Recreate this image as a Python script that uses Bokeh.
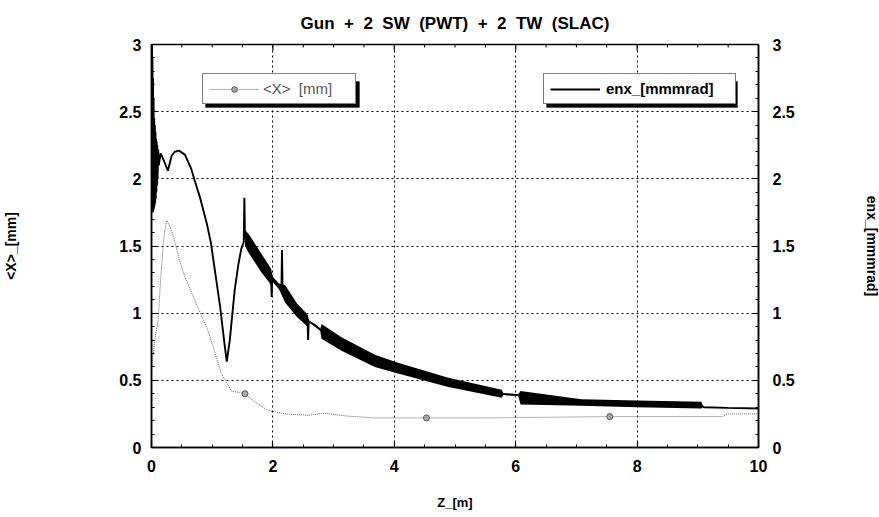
import math
from bokeh.plotting import figure
from bokeh.models import (Range1d, LinearAxis, FixedTicker, NumeralTickFormatter,
                          Legend, LegendItem, BoxAnnotation)
from bokeh.embed import file_html
from bokeh.resources import INLINE

# ---------------- data ----------------
emit_z = [0.000, 0.004, 0.008, 0.012, 0.016, 0.020, 0.025, 0.030, 0.035, 0.040,
          0.045, 0.050, 0.055, 0.060, 0.065, 0.070, 0.075, 0.080, 0.085, 0.090,
          0.095, 0.100, 0.110, 0.120, 0.150, 0.200, 0.270, 0.330, 0.380, 0.450,
          0.550, 0.650, 0.710, 0.800, 0.910, 0.980, 1.050, 1.130, 1.200, 1.240,
          1.290, 1.370, 1.430, 1.480, 1.520, 1.530, 1.540, 1.600, 1.700, 1.800,
          1.900, 1.970, 1.980, 1.990, 2.050, 2.140, 2.150, 2.160, 2.300, 2.450,
          2.570, 2.580, 2.590, 2.700, 2.800, 3.130, 3.400, 3.680, 4.060, 4.500,
          4.890, 5.330, 5.770, 6.040, 6.500, 7.080, 7.600, 8.000, 8.500, 9.060,
          9.100, 9.500, 10.000]
emit_v = [2.95, 1.80, 3.00, 1.78, 2.90, 1.75, 2.75, 1.76, 2.60, 1.78,
          2.45, 1.80, 2.40, 1.82, 2.35, 1.85, 2.30, 1.90, 2.28, 1.95,
          2.25, 2.00, 2.22, 2.10, 2.19, 2.14, 2.06, 2.17, 2.20, 2.21,
          2.18, 2.08, 1.99, 1.86, 1.67, 1.52, 1.30, 1.05, 0.78, 0.64,
          0.80, 1.17, 1.36, 1.48, 1.53, 1.86, 1.56, 1.52, 1.45, 1.38,
          1.31, 1.27, 1.12, 1.26, 1.22, 1.17, 1.47, 1.16, 1.08, 1.00,
          0.95, 0.80, 0.94, 0.91, 0.87, 0.77, 0.71, 0.65, 0.59, 0.535,
          0.49, 0.445, 0.40, 0.39, 0.37, 0.34, 0.33, 0.325, 0.32, 0.315,
          0.30, 0.295, 0.29]

# envelope of the fast oscillations of the emittance
band_z = [1.54, 1.60, 1.80, 1.97, 2.00, 2.10, 2.20, 2.40, 2.57, 2.60, 2.78, 2.80,
          3.13, 3.68, 4.06, 4.89, 5.77, 5.80, 6.04, 6.08, 7.08, 8.00, 9.06, 9.08]
band_lo = [1.50, 1.45, 1.31, 1.21, 1.23, 1.18, 1.08, 0.97, 0.90, 0.93, 0.87, 0.81,
           0.72, 0.60, 0.55, 0.45, 0.37, 0.39, 0.385, 0.32, 0.31, 0.30, 0.29, 0.30]
band_hi = [1.62, 1.59, 1.45, 1.33, 1.27, 1.22, 1.21, 1.07, 0.99, 0.94, 0.88, 0.92,
           0.82, 0.69, 0.63, 0.52, 0.43, 0.40, 0.395, 0.42, 0.36, 0.35, 0.34, 0.31]

xmean_z = [0.00, 0.03, 0.06, 0.09, 0.11, 0.15, 0.20, 0.25, 0.30, 0.36, 0.47, 0.55,
           0.70, 0.93, 1.05, 1.15, 1.32, 1.45, 1.54, 1.70, 1.92, 2.20, 2.58, 2.85,
           3.20, 3.68, 4.53, 5.50, 6.50, 7.55, 8.50, 9.40, 9.50, 10.00]
xmean_v = [0.60, 0.70, 0.82, 0.90, 0.95, 1.25, 1.55, 1.69, 1.65, 1.57, 1.38, 1.27,
           1.11, 0.87, 0.70, 0.55, 0.42, 0.41, 0.40, 0.34, 0.275, 0.25, 0.24, 0.255,
           0.235, 0.22, 0.22, 0.22, 0.225, 0.23, 0.23, 0.23, 0.25, 0.25]
xmark_z = [1.54, 4.53, 7.55]
xmark_v = [0.40, 0.22, 0.23]

x_ticks = [0, 2, 4, 6, 8, 10]
x_minor = [0.5, 1, 1.5, 2.5, 3, 3.5, 4.5, 5, 5.5, 6.5, 7, 7.5, 8.5, 9, 9.5]
y_ticks = [0, 0.5, 1, 1.5, 2, 2.5, 3]
y_minor = [i / 10 for i in range(31)]

SP2 = "\u00a0\u00a0"
title_text = SP2.join(["Gun", "+", "2", "SW", "(PWT)", "+", "2", "TW", "(SLAC)"])
xlabel_text = "Z_[m]"
ylabel_left = "<X>_[mm]"
ylabel_right = "enx_[mmmrad]"
legend_x = "<X>" + SP2 + "[mm]"
legend_e = "enx_[mmmrad]"

FONT = "Liberation Sans"
Y_TOP = 3.0
PX_PER_Y = 403 / 3.0

# ---------------- figure ----------------
p = figure(frame_width=607, frame_height=403, output_backend="svg",
           toolbar_location=None, x_range=Range1d(0, 10), y_range=Range1d(0, Y_TOP),
           min_border_left=150, min_border_right=122, min_border_top=44,
           min_border_bottom=70, background_fill_color="white",
           border_fill_color="white", title=title_text)
p.outline_line_color = "black"
p.outline_line_width = 1.5
p.extra_y_ranges = {"right": Range1d(0, Y_TOP)}

p.title.align = "center"
p.title.text_font = FONT
p.title.text_font_size = "17px"
p.title.text_font_style = "bold"
p.title.text_color = "black"
p.title.standoff = 23

xt = FixedTicker(ticks=x_ticks, minor_ticks=x_minor)
yt = FixedTicker(ticks=y_ticks, minor_ticks=y_minor)

def style_axis(ax, standoff):
    ax.major_tick_in = 6
    ax.major_tick_out = 0
    ax.minor_tick_in = 3
    ax.minor_tick_out = 0
    ax.axis_line_color = "black"
    ax.axis_line_width = 1.5
    ax.major_tick_line_width = 1.2
    ax.minor_tick_line_width = 1
    ax.major_label_text_font = FONT
    ax.major_label_text_font_style = "bold"
    ax.major_label_text_font_size = "16px"
    ax.major_label_text_color = "black"
    ax.major_label_standoff = standoff
    ax.axis_label_text_font = FONT
    ax.axis_label_text_font_style = "bold"
    ax.axis_label_text_color = "black"

p.xaxis.ticker = xt
style_axis(p.xaxis[0], 12)
p.xaxis.axis_label = xlabel_text
p.xaxis.axis_label_text_font_size = "13px"
p.xaxis.axis_label_standoff = 20

p.yaxis.ticker = yt
p.yaxis.formatter = NumeralTickFormatter(format="0.[0]")
style_axis(p.yaxis[0], 10)
p.yaxis.major_label_orientation = "horizontal"
p.yaxis.axis_label = ylabel_left
p.yaxis.axis_label_text_font_size = "14px"
p.yaxis.axis_label_standoff = 97

ry = LinearAxis(y_range_name="right", ticker=FixedTicker(ticks=y_ticks, minor_ticks=y_minor),
                formatter=NumeralTickFormatter(format="0.[0]"))
style_axis(ry, 14)
ry.axis_label = ylabel_right
ry.axis_label_text_font_size = "14px"
ry.axis_label_standoff = 66
p.add_layout(ry, "right")

for g in (p.xgrid[0], p.ygrid[0]):
    g.grid_line_color = "black"
    g.grid_line_dash = "2 3"
    g.grid_line_width = 1
p.xgrid.ticker = xt
p.ygrid.ticker = yt

# inward ticks along the top edge, placed at the x tick values
p.segment(x0=x_ticks, y0=[Y_TOP] * len(x_ticks), x1=x_ticks,
          y1=[Y_TOP - 6 / PX_PER_Y] * len(x_ticks), line_color="black", line_width=1.2)
p.segment(x0=x_minor, y0=[Y_TOP] * len(x_minor), x1=x_minor,
          y1=[Y_TOP - 3 / PX_PER_Y] * len(x_minor), line_color="black", line_width=1)

# ---------------- data glyphs ----------------
r_xline = p.line(xmean_z, xmean_v, line_color="#666666", line_width=1, line_dash="1 1")
r_xmark = p.scatter(xmark_z, xmark_v, marker="circle", size=6,
                    line_color="#555555", fill_color="#aaaaaa")
p.varea(x=band_z, y1=band_lo, y2=band_hi, fill_color="black")
r_emit = p.line(emit_z, emit_v, line_color="black", line_width=1.9)

# ---------------- legends ----------------
def px2x(px):
    return (px - 150) / 60.7

def px2y(py):
    return (447 - py) / PX_PER_Y

for (l, r) in ((204, 358), (545, 736)):
    p.add_layout(BoxAnnotation(left=px2x(l), right=px2x(r), top=px2y(81), bottom=px2y(107),
                               fill_color="black", fill_alpha=1, line_color="black",
                               level="annotation"))

leg1 = Legend(items=[LegendItem(label=legend_x, renderers=[r_xline, r_xmark])],
              location=(51, 343), margin=0, padding=6, spacing=0,
              glyph_width=50, glyph_height=14, label_standoff=4, label_width=86,
              label_height=14, label_text_font=FONT, label_text_font_size="15px",
              label_text_color="#555555", border_line_color="black",
              border_line_width=1.5, background_fill_color="white",
              background_fill_alpha=1)
leg2 = Legend(items=[LegendItem(label=legend_e, renderers=[r_emit])],
              location=(392, 343), margin=0, padding=6, spacing=0,
              glyph_width=50, glyph_height=14, label_standoff=6, label_width=123,
              label_height=14, label_text_font=FONT, label_text_font_size="15px",
              label_text_font_style="bold", label_text_color="black",
              border_line_color="black", border_line_width=1.5,
              background_fill_color="white", background_fill_alpha=1)
p.add_layout(leg1, "center")
p.add_layout(leg2, "center")

open("out.html", "w").write(file_html(p, INLINE))
